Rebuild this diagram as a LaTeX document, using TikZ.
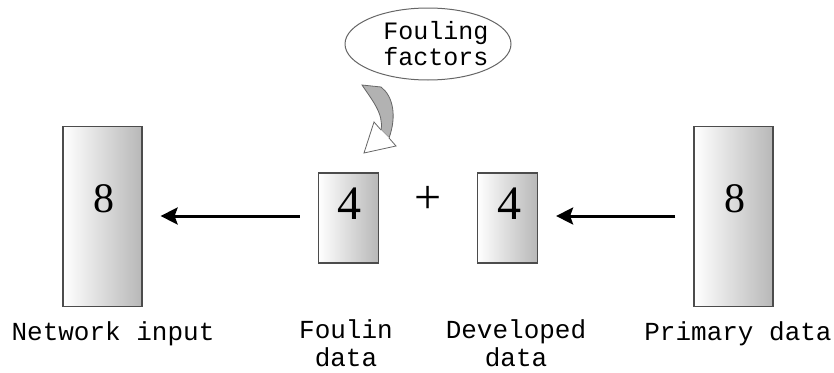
\documentclass[tikz,border=0pt]{standalone}
\usepackage{fontspec}
\setmainfont{Liberation Serif}
\newfontfamily\labfont{Liberation Mono}
\usetikzlibrary{shapes.geometric,arrows.meta}
\begin{document}
\begin{tikzpicture}[x=1pt,y=-1pt,
 databox/.style={draw=black!70,line width=1.2pt,left color=white,right color=black!28,inner sep=0},
 bigbox/.style={databox,minimum width=79pt,minimum height=180pt},
 smallbox/.style={databox,minimum width=60pt,minimum height=90pt},
 lab/.style={font=\labfont\fontsize{26}{28}\selectfont,align=center,inner sep=0},
 bigdigit/.style={font=\fontsize{42}{42}\selectfont,inner sep=0},
 smalldigit/.style={font=\fontsize{48}{48}\selectfont,inner sep=0},
 flow/.style={line width=3pt,-{Stealth[length=17pt,width=17pt,inset=3pt]},shorten >=18pt,shorten <=18pt}]
\useasboundingbox (0,0) rectangle (834,372);
% boxes
\node[bigbox] (net) at (102.5,216.5) {};
\node[bigbox] (prim) at (733.5,216.5) {};
\node[smallbox] (foul) at (348.5,218) {};
\node[smallbox] (dev) at (507.5,218) {};
% digits
\node[bigdigit] (d1) at (104,199) {8};
\node[bigdigit] (d2) at (735,199) {8};
\node[smalldigit] (d3) at (349,204) {4};
\node[smalldigit] (d4) at (509,204) {4};
\node[font=\fontsize{48}{48}\selectfont,inner sep=0] (plus) at (428,200) {+};
% arrows
\draw[flow] (foul.west |- 0,216) -- (net.east |- 0,216);
\draw[flow] (prim.west |- 0,216) -- (dev.east |- 0,216);
% labels
\node[lab] (l1) at (113,334) {Network input};
\node[lab] (l2) at (346,343) {Foulin\\data};
\node[lab] (l3) at (516,343) {Developed\\data};
\node[lab] (l4) at (738,334) {Primary data};
% fouling factors ellipse
\node[ellipse,draw=black!60,line width=1pt,minimum width=166pt,minimum height=72pt,inner sep=0] (ff) at (428,44) {};
\node[lab,font=\labfont\fontsize{25}{26}\selectfont] (fft) at (436,44) {Fouling\\factors};
% curved arrow
\filldraw[fill=black!30,draw=black!60,line width=0.8pt]
  (362,85) -- (381,87) .. controls (393,96) and (397,116) .. (389,138)
  -- (381,130) .. controls (384,114) and (372,100) .. (362,85) -- cycle;
\filldraw[fill=white,draw=black!60,line width=0.8pt]
  (381,130) -- (374,122) -- (364,153) -- (396,146) -- (389,138);
\end{tikzpicture}
\end{document}
